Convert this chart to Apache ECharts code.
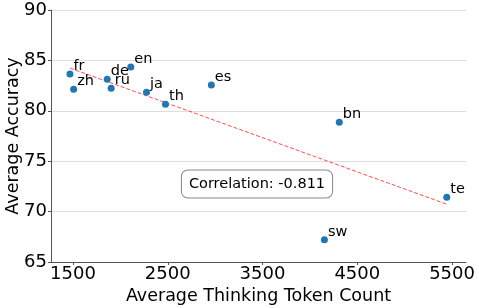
<!DOCTYPE html>
<html><head><meta charset="utf-8">
<script src="https://cdn.jsdelivr.net/npm/echarts@6/dist/echarts.min.js"></script>
<style>html,body{margin:0;padding:0;background:#fff}#c{width:479px;height:308px}</style>
</head><body><div id="c"></div>
<script>
const languages = ['fr','zh','de','ru','en','ja','th','es','bn','sw','te'];
const thinkingTokens = [1468,1507,1861,1903,2110,2276,2476,2960,4310,4153,5444];
const accuracy = [83.65,82.13,83.12,82.23,84.35,81.83,80.64,82.56,78.86,67.2,71.42];
const xTickValues = [1500,2500,3500,4500,5500];
const yTickValues = [65,70,75,80,85,90];
const correlationText = 'Correlation: -0.811';

const FONT = 'DejaVu Sans';
// least-squares trend line from the data
const n = thinkingTokens.length;
const mx = thinkingTokens.reduce((a,b)=>a+b,0)/n;
const my = accuracy.reduce((a,b)=>a+b,0)/n;
let sxy = 0, sxx = 0;
for (let i=0;i<n;i++){ sxy += (thinkingTokens[i]-mx)*(accuracy[i]-my); sxx += (thinkingTokens[i]-mx)**2; }
const slope = sxy/sxx, intercept = my - slope*mx;
const xmin = Math.min(...thinkingTokens), xmax = Math.max(...thinkingTokens);
const trend = [[xmin, intercept+slope*xmin],[xmax, intercept+slope*xmax]];

const chart = echarts.init(document.getElementById('c'), null, {renderer:'canvas'});
chart.setOption({
  animation:false,
  backgroundColor:'#fff',
  grid:{left:51,right:13,top:10,bottom:46,containLabel:false,outerBoundsMode:'none'},
  xAxis:{
    type:'value', min:1268, max:5647,
    name:'Average Thinking Token Count', nameLocation:'middle', nameGap:22,
    nameTextStyle:{fontFamily:FONT,fontSize:17.5,color:'#000'},
    axisLine:{show:true,lineStyle:{color:'#555',width:1}},
    axisTick:{show:true,length:3,customValues:xTickValues,lineStyle:{color:'#555'}},
    axisLabel:{customValues:xTickValues,formatter:v=>String(v),fontFamily:FONT,fontSize:18,color:'#000',margin:3},
    splitLine:{show:false}
  },
  yAxis:{
    type:'value', min:65, max:90, interval:5,
    name:'Average Accuracy', nameLocation:'middle', nameGap:29, nameRotate:90, nameMoveOverlap:false,
    nameTextStyle:{fontFamily:FONT,fontSize:17.5,color:'#000'},
    axisLine:{show:true,lineStyle:{color:'#555',width:1}},
    axisTick:{show:true,length:3,lineStyle:{color:'#555'}},
    axisLabel:{customValues:yTickValues,formatter:v=>String(v),fontFamily:FONT,fontSize:18,color:'#000',margin:4},
    splitLine:{show:true,lineStyle:{color:'#dedede',width:1}}
  },
  series:[
    {
      type:'line', data:trend, symbol:'none', silent:true,
      lineStyle:{color:'rgba(255,0,0,0.7)',width:1,type:[4,2]}, z:1
    },
    {
      type:'scatter', symbolSize:7, z:3,
      itemStyle:{color:'#1f77b4',opacity:1},
      data: languages.map((l,i)=>({name:l,value:[thinkingTokens[i],accuracy[i]]})),
      label:{show:true,formatter:p=>p.name,position:[7,3],align:'left',verticalAlign:'bottom',
        fontFamily:FONT,fontSize:14.5,color:'#000'}
    }
  ],
  graphic:[{
    type:'text', x:257, y:184, z:10,
    style:{text:correlationText, align:'center', verticalAlign:'middle',
      font:'14.5px "DejaVu Sans"', fill:'#000',
      backgroundColor:'#fff', borderColor:'#888', borderWidth:1, borderRadius:6,
      padding:[6,7,6,7]}
  }]
});
</script></body></html>
